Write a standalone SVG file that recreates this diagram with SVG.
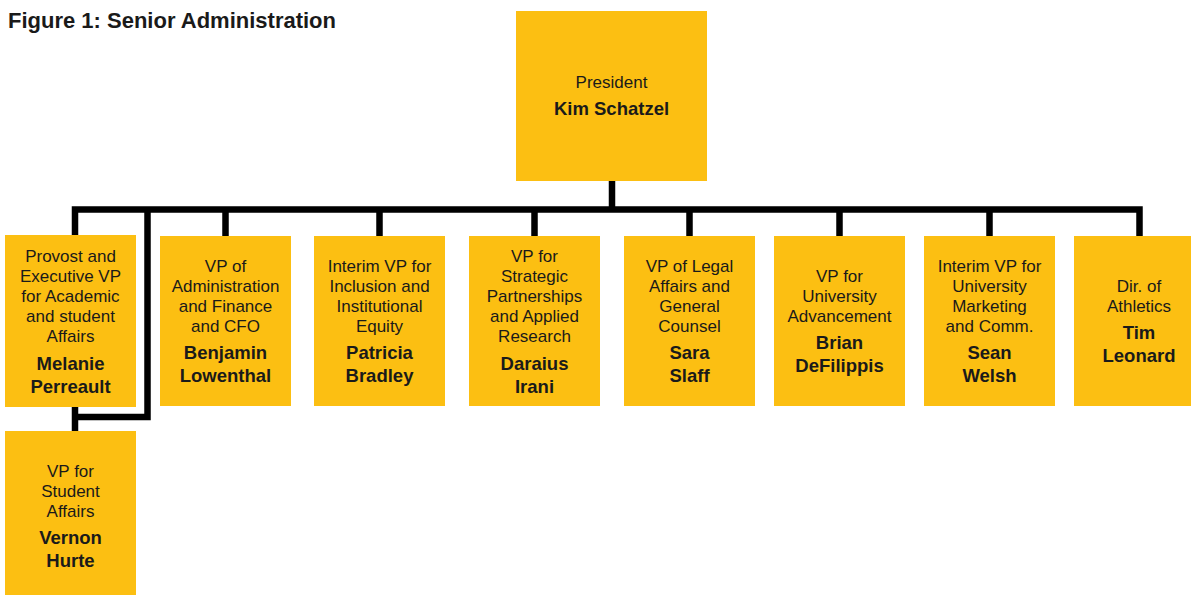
<svg xmlns="http://www.w3.org/2000/svg" width="1191" height="595" viewBox="0 0 1191 595">
<style>
.box{fill:#FCBF12}
text{font-family:"Liberation Sans",Arial,sans-serif;fill:#1a1a1a;text-anchor:middle}
.r{font-size:17px}
.b{font-size:18.5px;font-weight:bold}
.title{font-size:22px;font-weight:bold;text-anchor:start}
.ln{fill:none;stroke:#000;stroke-width:6.5;stroke-linejoin:miter;stroke-linecap:butt}
</style>
<rect width="1191" height="595" fill="#fff"/>
<text class="title" x="8" y="28">Figure 1: Senior Administration</text>
<g id="connectors">
<path class="ln" d="M612,181 V209.5"/>
<path class="ln" d="M75,236 V209.5 H1139.5 V236"/>
<path class="ln" d="M147.5,209.5 V417 H75"/>
<path class="ln" d="M75,406 V431"/>
<path class="ln" d="M225.5,209.5 V236 M379.5,209.5 V236 M534.5,209.5 V236 M689.5,209.5 V236 M839.5,209.5 V236 M989.5,209.5 V236"/>
</g>
<g id="president">
<rect class="box" x="516" y="11" width="191" height="170"/>
<text class="r" x="611.5" y="88">President</text>
<text class="b" x="611.5" y="115">Kim Schatzel</text>
</g>
<g id="provost">
<rect class="box" x="5" y="235" width="131" height="172"/>
<text class="r" x="70.5" y="262">Provost and</text>
<text class="r" x="70.5" y="282">Executive VP</text>
<text class="r" x="70.5" y="302">for Academic</text>
<text class="r" x="70.5" y="322">and student</text>
<text class="r" x="70.5" y="342">Affairs</text>
<text class="b" x="70.5" y="370">Melanie</text>
<text class="b" x="70.5" y="393">Perreault</text>
</g>
<g id="student-affairs">
<rect class="box" x="5" y="431" width="131" height="164"/>
<text class="r" x="70.5" y="477">VP for</text>
<text class="r" x="70.5" y="497">Student</text>
<text class="r" x="70.5" y="517">Affairs</text>
<text class="b" x="70.5" y="544">Vernon</text>
<text class="b" x="70.5" y="567">Hurte</text>
</g>
<g id="finance">
<rect class="box" x="160" y="236" width="131" height="170"/>
<text class="r" x="225.5" y="272">VP of</text>
<text class="r" x="225.5" y="292">Administration</text>
<text class="r" x="225.5" y="312">and Finance</text>
<text class="r" x="225.5" y="332">and CFO</text>
<text class="b" x="225.5" y="359">Benjamin</text>
<text class="b" x="225.5" y="382">Lowenthal</text>
</g>
<g id="inclusion">
<rect class="box" x="314" y="236" width="131" height="170"/>
<text class="r" x="379.5" y="272">Interim VP for</text>
<text class="r" x="379.5" y="292">Inclusion and</text>
<text class="r" x="379.5" y="312">Institutional</text>
<text class="r" x="379.5" y="332">Equity</text>
<text class="b" x="379.5" y="359">Patricia</text>
<text class="b" x="379.5" y="382">Bradley</text>
</g>
<g id="partnerships">
<rect class="box" x="469" y="236" width="131" height="170"/>
<text class="r" x="534.5" y="262">VP for</text>
<text class="r" x="534.5" y="282">Strategic</text>
<text class="r" x="534.5" y="302">Partnerships</text>
<text class="r" x="534.5" y="322">and Applied</text>
<text class="r" x="534.5" y="342">Research</text>
<text class="b" x="534.5" y="370">Daraius</text>
<text class="b" x="534.5" y="393">Irani</text>
</g>
<g id="legal">
<rect class="box" x="624" y="236" width="131" height="170"/>
<text class="r" x="689.5" y="272">VP of Legal</text>
<text class="r" x="689.5" y="292">Affairs and</text>
<text class="r" x="689.5" y="312">General</text>
<text class="r" x="689.5" y="332">Counsel</text>
<text class="b" x="689.5" y="359">Sara</text>
<text class="b" x="689.5" y="382">Slaff</text>
</g>
<g id="advancement">
<rect class="box" x="774" y="236" width="131" height="170"/>
<text class="r" x="839.5" y="282">VP for</text>
<text class="r" x="839.5" y="302">University</text>
<text class="r" x="839.5" y="322">Advancement</text>
<text class="b" x="839.5" y="349">Brian</text>
<text class="b" x="839.5" y="372">DeFilippis</text>
</g>
<g id="marketing">
<rect class="box" x="924" y="236" width="131" height="170"/>
<text class="r" x="989.5" y="272">Interim VP for</text>
<text class="r" x="989.5" y="292">University</text>
<text class="r" x="989.5" y="312">Marketing</text>
<text class="r" x="989.5" y="332">and Comm.</text>
<text class="b" x="989.5" y="359">Sean</text>
<text class="b" x="989.5" y="382">Welsh</text>
</g>
<g id="athletics">
<rect class="box" x="1074" y="236" width="131" height="170"/>
<text class="r" x="1139" y="292">Dir. of</text>
<text class="r" x="1139" y="312">Athletics</text>
<text class="b" x="1139" y="339">Tim</text>
<text class="b" x="1139" y="362">Leonard</text>
</g>
</svg>
